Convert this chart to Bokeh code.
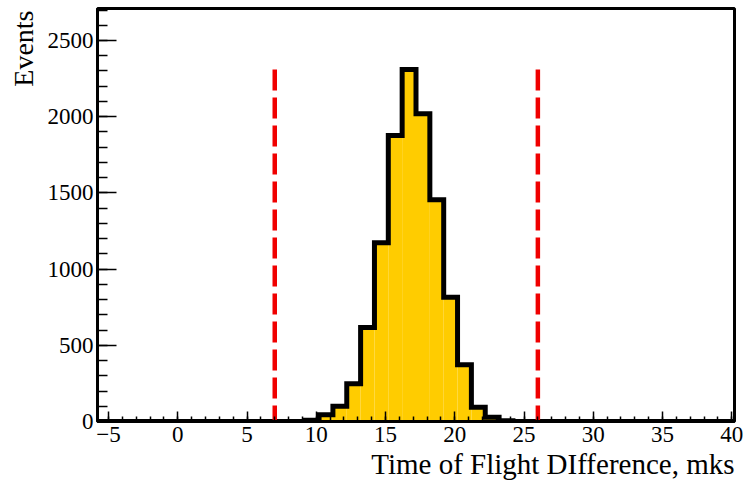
import numpy as np
from bokeh.plotting import figure
from bokeh.models import Range1d, FixedTicker, ColumnDataSource, Title
from bokeh.embed import file_html
from bokeh.resources import INLINE

# Histogram of time-of-flight difference (bin width 1 mks, edges at k+0.2)
x_min, x_max = -5.8, 40.2
bin_left = [9.2, 10.2, 11.2, 12.2, 13.2, 14.2, 15.2, 16.2, 17.2, 18.2, 19.2, 20.2, 21.2, 22.2, 23.2]
bin_right = [10.2, 11.2, 12.2, 13.2, 14.2, 15.2, 16.2, 17.2, 18.2, 19.2, 20.2, 21.2, 22.2, 23.2, 24.2]
counts = [8, 44, 100, 247, 617, 1173, 1877, 2310, 2019, 1455, 816, 372, 94, 28, 5]

# Selection window boundaries
cuts = [7, 26]

x_ticks = [-5, 0, 5, 10, 15, 20, 25, 30, 35, 40]
y_ticks = [0, 500, 1000, 1500, 2000, 2500]
y_max = 2710

FONT = "Liberation Serif"

p = figure(width=748, height=482, output_backend="svg", toolbar_location=None,
           x_range=Range1d(x_min, x_max), y_range=Range1d(0, y_max),
           min_border_left=97, min_border_right=14, min_border_top=8, min_border_bottom=61)
p.grid.visible = False
p.background_fill_color = "white"
p.border_fill_color = "white"
p.outline_line_color = "black"
p.outline_line_width = 3

# filled bars
src = ColumnDataSource(dict(left=bin_left, right=bin_right, top=counts))
p.quad(left="left", right="right", top="top", bottom=0, source=src,
       fill_color="#FFCC00", line_color=None)

# step outline over the whole axis range
sx = [x_min, bin_left[0]]
sy = [0, 0]
for l, r, c in zip(bin_left, bin_right, counts):
    sx += [l, r]
    sy += [c, c]
sx += [bin_right[-1], x_max]
sy += [0, 0]
p.line(sx, sy, line_color="black", line_width=5, line_join="miter")

# dashed cut lines up to the histogram maximum
peak = max(counts)
p.segment(x0=cuts, y0=[peak] * len(cuts), x1=cuts, y1=[0] * len(cuts),
          line_color="#F00000", line_width=4.5, line_dash="21 7", line_cap="butt")

# axes in ROOT style: ticks inside, serif labels
for ax in (p.xaxis[0], p.yaxis[0]):
    ax.axis_line_width = 3
    ax.axis_line_color = "black"
    ax.major_tick_out = 0
    ax.minor_tick_out = 0
    ax.major_tick_line_width = 1.5
    ax.minor_tick_line_width = 1.5
    ax.major_tick_line_color = "black"
    ax.minor_tick_line_color = "black"
    ax.major_label_text_font = FONT
    ax.major_label_text_font_size = "23px"
    ax.major_label_text_color = "black"

p.xaxis.ticker = FixedTicker(ticks=x_ticks, minor_ticks=list(range(-5, 41)))
p.xaxis.major_tick_in = 10
p.xaxis.minor_tick_in = 5
p.xaxis.major_label_standoff = 5
p.xaxis.major_label_overrides = {t: (str(t).replace("-", "\u2212")) for t in x_ticks}

p.yaxis.ticker = FixedTicker(ticks=y_ticks, minor_ticks=list(range(0, 2701, 100)))
p.yaxis.major_tick_in = 19
p.yaxis.minor_tick_in = 10
p.yaxis.major_label_standoff = 4

# axis titles, right-aligned at the end of each axis
p.add_layout(Title(text="Time of Flight DIfference, mks", align="right",
                   text_font=FONT, text_font_size="29px", text_font_style="normal",
                   text_color="black", standoff=3), "below")
p.add_layout(Title(text="Events", align="right", offset=2,
                   text_font=FONT, text_font_size="28px", text_font_style="normal",
                   text_color="black", standoff=11), "left")

open("out.html", "w").write(file_html(p, INLINE))
